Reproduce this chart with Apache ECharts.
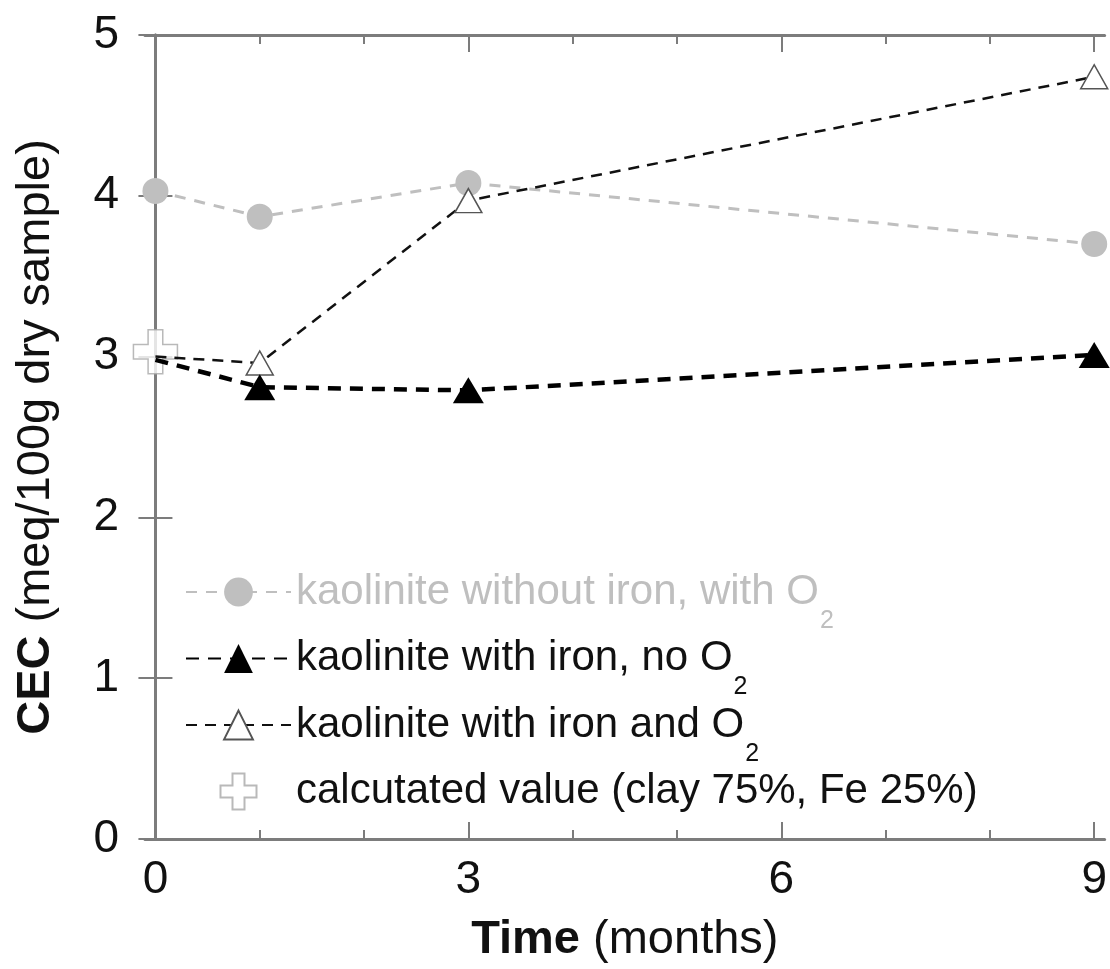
<!DOCTYPE html>
<html>
<head>
<meta charset="utf-8">
<script src="https://cdn.jsdelivr.net/npm/echarts@6/dist/echarts.min.js"></script>
<style>
  html, body { margin: 0; padding: 0; background: #fff; }
  #chart { width: 1110px; height: 969px; }
</style>
</head>
<body>
<div id="chart"></div>
<script>
// CEC of kaolinite samples over time
const months = [0, 1, 3, 9];
const noIronWithO2 = [4.03, 3.87, 4.08, 3.70];
const ironNoO2 = [2.98, 2.81, 2.79, 3.01];
const ironAndO2 = [3.00, 2.96, 3.97, 4.74];
const calculatedPoint = [[0, 3.03]];

const majorMonthTicks = [0, 3, 6, 9];
const minorMonthTicks = [1, 2, 4, 5, 7, 8];

const seriesNames = [
  'kaolinite without iron, with O2',
  'kaolinite with iron, no O2',
  'kaolinite with iron and O2',
  'calcutated value (clay 75%, Fe 25%)'
];

const FONT = '"Liberation Sans", Arial, Helvetica, sans-serif';
const AXIS_GREY = '#7c7c7c';
const LIGHT_GREY = '#bfbfbf';

// the month-0 point sits under the calculated-value marker, so it has no symbol of its own
const pairs = (ys) => months.map((m, i) =>
  m === 0 ? { value: [m, ys[i]], symbol: 'none' } : [m, ys[i]]);

const plusPath = 'path://M1,0 L2,0 L2,1 L3,1 L3,2 L2,2 L2,3 L1,3 L1,2 L0,2 L0,1 L1,1 Z';

const chart = echarts.init(document.getElementById('chart'), null, { renderer: 'canvas' });

const xBase = {
  type: 'value', gridIndex: 0, min: -0.1, max: 9.1,
  splitLine: { show: false }
};

chart.setOption({
  backgroundColor: '#fff',
  animation: false,
  grid: { left: 145, right: 5, top: 35, bottom: 128 },
  xAxis: [
    Object.assign({}, xBase, {
      position: 'bottom',
      name: '{b|Time} (months)',
      nameLocation: 'middle',
      nameGap: 78,
      nameTextStyle: {
        fontFamily: FONT, fontSize: 47, color: '#111',
        rich: { b: { fontFamily: FONT, fontSize: 47, fontWeight: 'bold', color: '#111' } }
      },
      axisLine: { show: true, lineStyle: { color: AXIS_GREY, width: 3 } },
      axisTick: { show: true, inside: true, length: 17, customValues: majorMonthTicks,
                  lineStyle: { color: AXIS_GREY, width: 2 } },
      axisLabel: { customValues: majorMonthTicks, fontFamily: FONT, fontSize: 46, color: '#111', margin: 18 }
    }),
    Object.assign({}, xBase, {
      position: 'bottom',
      axisLine: { show: false },
      axisTick: { show: true, inside: true, length: 9, customValues: minorMonthTicks,
                  lineStyle: { color: AXIS_GREY, width: 2 } },
      axisLabel: { show: false }
    }),
    Object.assign({}, xBase, {
      position: 'top',
      axisLine: { show: true, lineStyle: { color: AXIS_GREY, width: 3 } },
      axisTick: { show: true, inside: true, length: 17, customValues: majorMonthTicks,
                  lineStyle: { color: AXIS_GREY, width: 2 } },
      axisLabel: { show: false }
    }),
    Object.assign({}, xBase, {
      position: 'top',
      axisLine: { show: false },
      axisTick: { show: true, inside: true, length: 9, customValues: minorMonthTicks,
                  lineStyle: { color: AXIS_GREY, width: 2 } },
      axisLabel: { show: false }
    })
  ],
  yAxis: [
    {
      type: 'value', position: 'left', min: 0, max: 5, interval: 1,
      name: '{b|CEC} (meq/100g dry sample)',
      nameLocation: 'middle',
      nameGap: 85,
      nameRotate: 90,
      nameTextStyle: {
        fontFamily: FONT, fontSize: 47, color: '#111',
        rich: { b: { fontFamily: FONT, fontSize: 47, fontWeight: 'bold', color: '#111' } }
      },
      splitLine: { show: false },
      axisLine: { show: true, lineStyle: { color: AXIS_GREY, width: 3 } },
      axisTick: { show: true, inside: true, length: 17, lineStyle: { color: AXIS_GREY, width: 2 } },
      axisLabel: { fontFamily: FONT, fontSize: 46, color: '#111', margin: 26 }
    },
    {
      type: 'value', position: 'right', min: 0, max: 5, interval: 1,
      splitLine: { show: false },
      axisLine: { show: true, lineStyle: { color: AXIS_GREY, width: 3 } },
      axisTick: { show: true, inside: true, length: 17, lineStyle: { color: AXIS_GREY, width: 2 } },
      axisLabel: { show: false }
    }
  ],
  legend: {
    orient: 'vertical',
    left: 180,
    top: 566,
    itemWidth: 105,
    itemHeight: 36,
    itemGap: 4,
    data: [
      { name: seriesNames[0], textStyle: { color: LIGHT_GREY } },
      { name: seriesNames[1] },
      { name: seriesNames[2] },
      { name: seriesNames[3] }
    ],
    formatter: (name) => name.endsWith('O2') ? name.slice(0, -1) + '{s|2}' : name,
    textStyle: {
      fontFamily: FONT, fontSize: 42, color: '#111',
      rich: { s: { fontFamily: FONT, fontSize: 25, padding: [29, 0, -29, 1] } }
    }
  },
  series: [
    {
      name: seriesNames[3],
      type: 'scatter',
      data: calculatedPoint,
      symbol: plusPath,
      symbolSize: 44,
      itemStyle: { color: '#fff', borderColor: '#a8a8a8', borderWidth: 1.5 },
      clip: false
    },
    {
      name: seriesNames[0],
      type: 'line',
      data: months.map((m, i) => [m, noIronWithO2[i]]),
      symbol: 'circle',
      symbolSize: 26,
      itemStyle: { color: LIGHT_GREY, borderWidth: 0 },
      lineStyle: { color: LIGHT_GREY, width: 3, type: [11, 9] },
      clip: false
    },
    {
      name: seriesNames[2],
      type: 'line',
      data: pairs(ironAndO2),
      symbol: 'triangle',
      symbolSize: [27, 24],
      itemStyle: { color: '#fff', borderColor: '#555', borderWidth: 1.5 },
      lineStyle: { color: '#111', width: 2.5, type: [11, 8] },
      clip: false
    },
    {
      name: seriesNames[1],
      type: 'line',
      data: pairs(ironNoO2),
      symbol: 'triangle',
      symbolSize: [31, 26],
      itemStyle: { color: '#000', borderWidth: 0 },
      lineStyle: { color: '#000', width: 4.5, type: [13, 9] },
      clip: false
    }
  ]
});
</script>
</body>
</html>
